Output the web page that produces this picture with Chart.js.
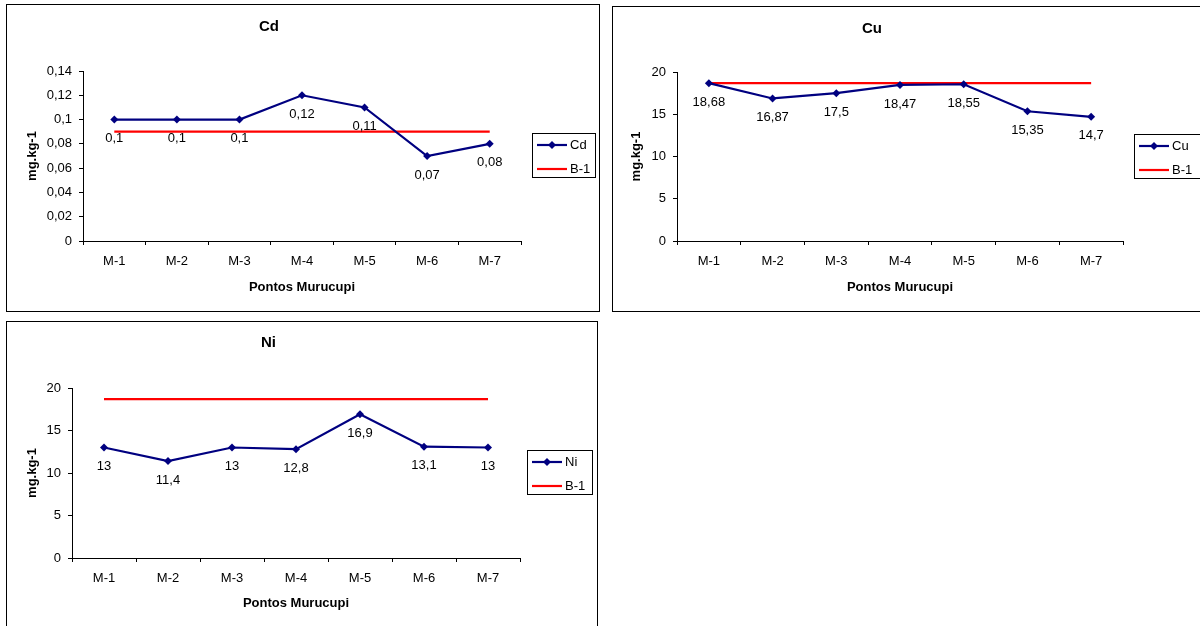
<!DOCTYPE html>
<html>
<head>
<meta charset="utf-8">
<script src="https://cdn.jsdelivr.net/npm/chart.js@4"></script>
<style>
  body { margin: 0; background: #fff; width: 1200px; height: 626px; overflow: hidden; position: relative; }
  .box { position: absolute; border: 1px solid #000; box-sizing: border-box; overflow: hidden; background: #fff; }
  .box canvas { position: absolute; left: 0; top: 0; }
</style>
</head>
<body>
<div class="box" style="left:6px; top:4px; width:594px; height:308px;"><canvas id="cdChart" width="592" height="306"></canvas></div>
<div class="box" style="left:612px; top:6px; width:600px; height:306px;"><canvas id="cuChart" width="590" height="304"></canvas></div>
<div class="box" style="left:6px; top:321px; width:592px; height:320px;"><canvas id="niChart" width="590" height="309"></canvas></div>
<script>
// ===============================
// Data
// ===============================
const points = ["M-1", "M-2", "M-3", "M-4", "M-5", "M-6", "M-7"];

const cdValues = [0.1, 0.1, 0.1, 0.12, 0.11, 0.07, 0.08];
const cdLimit = [0.09, 0.09, 0.09, 0.09, 0.09, 0.09, 0.09];
const cdTicks = [0, 0.02, 0.04, 0.06, 0.08, 0.1, 0.12, 0.14];

const cuValues = [18.68, 16.87, 17.5, 18.47, 18.55, 15.35, 14.7];
const cuLimit = [18.68, 18.68, 18.68, 18.68, 18.68, 18.68, 18.68];
const cuTicks = [0, 5, 10, 15, 20];

const niValues = [13, 11.4, 13, 12.8, 16.9, 13.1, 13];
const niLimit = [18.68, 18.68, 18.68, 18.68, 18.68, 18.68, 18.68];
const niTicks = [0, 5, 10, 15, 20];

Chart.defaults.font.family = "'Liberation Sans', Arial, sans-serif";
Chart.defaults.color = "#000";

const FONT = "13px 'Liberation Sans', Arial, sans-serif";

// decimal comma, like the original sheet
const fmt = (v) => String(v).replace(".", ",");

// ===============================
// Plugins
// ===============================
const pointLabels = {
  id: "pointLabels",
  afterDatasetsDraw(chart) {
    const { ctx } = chart;
    const meta = chart.getDatasetMeta(0);
    const values = chart.data.datasets[0].data;
    ctx.save();
    ctx.font = FONT;
    ctx.fillStyle = "#000";
    ctx.textAlign = "center";
    ctx.textBaseline = "middle";
    meta.data.forEach((pt, i) => {
      ctx.fillText(fmt(values[i]), pt.x, pt.y + 19);
    });
    ctx.restore();
  },
};

const boxLegend = {
  id: "boxLegend",
  afterDraw(chart, args, opts) {
    const { ctx, chartArea } = chart;
    const w = opts.width;
    const h = 44;
    const x = Math.round(chartArea.right + opts.gap);
    const y = Math.round((chartArea.top + chartArea.bottom) / 2 - h / 2 - 1);

    ctx.save();
    ctx.strokeStyle = "#000";
    ctx.lineWidth = 1;
    ctx.strokeRect(x + 0.5, y + 0.5, w, h);

    chart.data.datasets.forEach((ds, i) => {
      const ly = y + 12 + i * 24;
      ctx.strokeStyle = ds.borderColor;
      ctx.lineWidth = ds.borderWidth;
      ctx.beginPath();
      ctx.moveTo(x + 5, ly);
      ctx.lineTo(x + 35, ly);
      ctx.stroke();

      if (ds.pointRadius > 0) {
        const r = ds.pointRadius;
        ctx.fillStyle = ds.backgroundColor;
        ctx.beginPath();
        ctx.moveTo(x + 20, ly - r);
        ctx.lineTo(x + 20 + r, ly);
        ctx.lineTo(x + 20, ly + r);
        ctx.lineTo(x + 20 - r, ly);
        ctx.closePath();
        ctx.fill();
      }

      ctx.fillStyle = "#000";
      ctx.font = FONT;
      ctx.textBaseline = "middle";
      ctx.textAlign = "left";
      ctx.fillText(ds.label, x + 38, ly);
    });
    ctx.restore();
  },
};

// ===============================
// Chart builder
// ===============================
function lineChart(id, name, values, limit, ticks, g) {
  return new Chart(document.getElementById(id), {
    type: "line",
    data: {
      labels: points,
      datasets: [
        {
          label: name,
          data: values,
          borderColor: "#000080",
          backgroundColor: "#000080",
          borderWidth: 2.2,
          pointStyle: "rectRot",
          pointRadius: 4,
          pointBorderWidth: 0,
          tension: 0,
        },
        {
          label: "B-1",
          data: limit,
          borderColor: "#FF0000",
          backgroundColor: "#FF0000",
          borderWidth: 2.2,
          pointRadius: 0,
          tension: 0,
        },
      ],
    },
    options: {
      responsive: false,
      animation: false,
      layout: { padding: { left: g.pl, right: g.pr, top: 0, bottom: g.pb } },
      scales: {
        x: {
          offset: true,
          afterFit: (s) => { s.height = g.xh; },
          border: { color: "#000", width: 1 },
          grid: { offset: true, drawOnChartArea: false, color: "#000", tickLength: 4 },
          ticks: { color: "#000", padding: 9, font: { size: 13 } },
          title: {
            display: true,
            text: "Pontos Murucupi",
            color: "#000",
            font: { size: 13, weight: "bold" },
            padding: { top: 0, bottom: g.xtPad },
          },
        },
        y: {
          min: ticks[0],
          max: ticks[ticks.length - 1],
          afterBuildTicks: (s) => { s.ticks = ticks.map((v) => ({ value: v })); },
          afterFit: (s) => { s.width = g.yw; },
          border: { color: "#000", width: 1 },
          grid: { drawOnChartArea: false, color: "#000", tickLength: 4 },
          ticks: { color: "#000", padding: 7, font: { size: 13 }, callback: (v) => fmt(v) },
          title: {
            display: true,
            text: "mg.kg-1",
            color: "#000",
            font: { size: 13, weight: "bold" },
            padding: { top: g.ytPad, bottom: 0 },
          },
        },
      },
      plugins: {
        legend: { display: false },
        tooltip: { enabled: false },
        title: {
          display: true,
          text: name,
          color: "#000",
          font: { size: 15, weight: "bold" },
          padding: { top: g.tTop, bottom: g.tBottom },
        },
        boxLegend: { gap: g.lgGap, width: g.lgW },
      },
    },
    plugins: [pointLabels, boxLegend],
  });
}

lineChart("cdChart", "Cd", cdValues, cdLimit, cdTicks, {
  pl: 10, pr: 78, pb: 5, yw: 66, xh: 65, ytPad: 7.2, xtPad: 11.2,
  tTop: 13, tBottom: 35, lgGap: 11, lgW: 63,
});

lineChart("cuChart", "Cu", cuValues, cuLimit, cuTicks, {
  pl: 8, pr: 80, pb: 4, yw: 56, xh: 66, ytPad: 7.2, xtPad: 12.2,
  tTop: 13, tBottom: 34, lgGap: 11, lgW: 66,
});

lineChart("niChart", "Ni", niValues, niLimit, niTicks, {
  pl: 10, pr: 77, pb: 4, yw: 55, xh: 69, ytPad: 7.2, xtPad: 16.2,
  tTop: 12, tBottom: 36, lgGap: 7, lgW: 65,
});
</script>
</body>
</html>
